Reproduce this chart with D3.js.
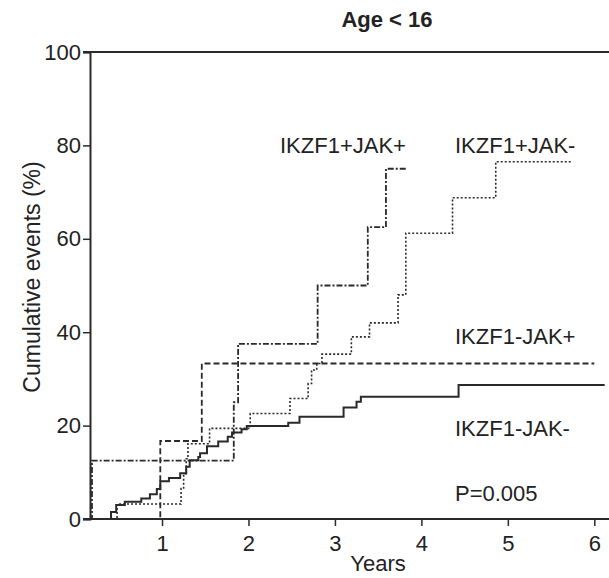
<!DOCTYPE html>
<html><head><meta charset="utf-8">
<script src="https://cdn.jsdelivr.net/npm/d3@7"></script>
<style>body{margin:0;background:#fff}svg{display:block}text{font-family:"Liberation Sans",Arial,sans-serif;fill:#222}</style>
</head><body><svg id="c" width="609" height="578"></svg>
<script>
// Data (years, cumulative events %)
const negNegTimes = [0.167,0.41,0.47,0.57,0.76,0.86,0.94,0.98,1.08,1.21,1.28,1.32,1.42,1.44,1.52,1.65,1.76,1.81,1.92,1.98,2.46,2.59,3.10,3.25,3.30,4.43,6.12];
const negNegValues = [0,1.5,3.0,3.7,4.4,5.3,6.4,8.1,8.8,9.8,11.2,12.6,13.3,14.1,15.6,16.6,17.6,18.5,19.2,19.9,20.6,21.9,23.9,25.1,26.2,28.7,28.7];
const posNegTimes = [0.167,0.48,1.22,1.25,1.28,1.30,1.55,2.02,2.48,2.69,2.73,2.79,2.85,3.19,3.40,3.73,3.82,4.36,4.86,5.75];
const posNegValues = [0,3.2,6.5,9.7,12.9,16.1,19.4,22.6,25.8,29.0,31.9,33.3,35.3,39.0,42.0,48.0,61.2,68.8,76.5,76.5];
const negPosTimes = [0.167,0.98,1.46,6.0];
const negPosValues = [0,16.7,33.3,33.3];
const posPosTimes = [0.167,0.19,1.83,1.88,2.80,3.38,3.59,3.84];
const posPosValues = [0,12.5,25,37.5,50,62.5,75,75];
const seriesNames = ["IKZF1-JAK-","IKZF1+JAK-","IKZF1-JAK+","IKZF1+JAK+"];
const xTicks = [1,2,3,4,5,6];
const yTicks = [0,20,40,60,80,100];

const svg = d3.select("#c");
const x = d3.scaleLinear().domain([0.167,6.17]).range([90,609]);
const y = d3.scaleLinear().domain([0,100]).range([519,52]);
const ink = "#2a2a2a";

const series = [
  {t:negNegTimes,v:negNegValues,dash:null,w:2},
  {t:posNegTimes,v:posNegValues,dash:"2,2",w:1.6},
  {t:negPosTimes,v:negPosValues,dash:"6,3",w:1.8},
  {t:posPosTimes,v:posPosValues,dash:"6,2,2,2",w:1.8}
];
const line = d3.line().x(d=>x(d[0])).y(d=>y(d[1])).curve(d3.curveStepAfter);
series.forEach(s=>{
  const pts = s.t.map((t,i)=>[t,s.v[i]]);
  svg.append("path").attr("d",line(pts)).attr("fill","none")
    .attr("stroke",ink).attr("stroke-width",s.w)
    .attr("stroke-dasharray",s.dash);
});

// axes
const xa = svg.append("g").attr("transform","translate(0,519)")
  .call(d3.axisBottom(x).tickValues(xTicks).tickFormat(d3.format("d")).tickSizeOuter(0).tickSize(7).tickPadding(9));
const ya = svg.append("g").attr("transform","translate(90,0)")
  .call(d3.axisLeft(y).tickValues(yTicks).tickSizeOuter(0).tickSize(7).tickPadding(2));
[xa,ya].forEach(g=>{
  g.select(".domain").attr("stroke",ink).attr("stroke-width",2);
  g.selectAll(".tick line").attr("stroke",ink).attr("stroke-width",1.5);
  g.selectAll(".tick text").attr("font-size",22).attr("fill","#222").style("font-family","'Liberation Sans',Arial,sans-serif");
});
xa.select(".domain").attr("d","M83,0H609");
// top frame line
svg.append("line").attr("x1",83).attr("x2",609).attr("y1",y(100)).attr("y2",y(100)).attr("stroke",ink).attr("stroke-width",2);

// titles
svg.append("text").attr("x",387).attr("y",27).attr("text-anchor","middle").attr("font-size",22).attr("font-weight","bold").text("Age < 16");
svg.append("text").attr("x",378).attr("y",571).attr("text-anchor","middle").attr("font-size",22).text("Years");
svg.append("text").attr("transform","translate(40,277) rotate(-90)").attr("text-anchor","middle").attr("font-size",23).text("Cumulative events (%)");

// series labels
const labelPos = [[455,436],[455,153],[455,344],[280,153]];
seriesNames.forEach((n,i)=>{
  svg.append("text").attr("x",labelPos[i][0]).attr("y",labelPos[i][1]).attr("font-size",22).text(n);
});
svg.append("text").attr("x",455).attr("y",501).attr("font-size",22).text("P=0.005");
</script></body></html>
